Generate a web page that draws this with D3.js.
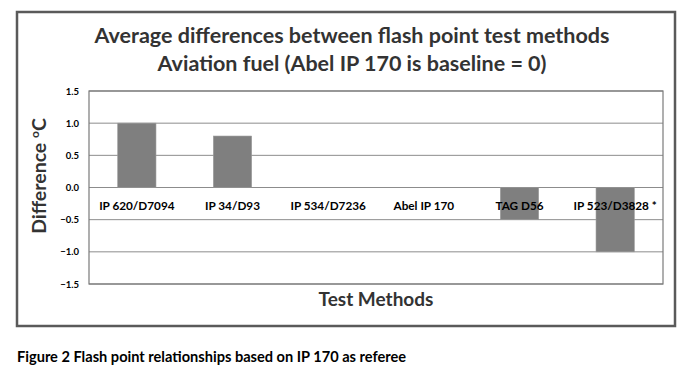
<!DOCTYPE html>
<html>
<head>
<meta charset="utf-8">
<script src="https://cdn.jsdelivr.net/npm/d3@7"></script>
<style>
  body { margin: 0; background: #fff; }
  text { font-family: Lato, "Open Sans", sans-serif; font-weight: bold; }
</style>
</head>
<body>
<svg id="chart" width="690" height="372"></svg>
<script>
// chart data
let methods = ["IP 620/D7094", "IP 34/D93", "IP 534/D7236", "Abel IP 170", "TAG D56", "IP 523/D3828 *"];
let differences = [1.0, 0.8, 0, 0, -0.5, -1.0];
let yTicks = [-1.5, -1.0, -0.5, 0.0, 0.5, 1.0, 1.5];
let titleLines = ["Average differences between flash point test methods", "Aviation fuel (Abel IP 170 is baseline = 0)"];

let svg = d3.select("#chart");

let margin = {top: 91, right: 27, bottom: 88, left: 89},
    width = +svg.attr("width") - margin.left - margin.right,
    height = +svg.attr("height") - margin.top - margin.bottom;

// outer frame
svg.append("rect")
    .attr("x", 17).attr("y", 12)
    .attr("width", 658).attr("height", 314)
    .attr("fill", "#fff")
    .attr("stroke", "#5a5a5a")
    .attr("stroke-width", 2.5);

svg.selectAll(".title")
    .data(titleLines)
    .enter().append("text")
    .attr("class", "title")
    .attr("x", 352)
    .attr("y", (d, i) => 43 + i * 28)
    .attr("text-anchor", "middle")
    .attr("fill", "#333")
    .style("font-size", "21.5px")
    .text(d => d);

let g = svg.append("g").attr("transform", "translate(" + margin.left + "," + margin.top + ")");

let x = d3.scaleBand()
    .domain(methods)
    .range([0, width])
    .paddingInner(0.6)
    .paddingOuter(0.3);

let y = d3.scaleLinear()
    .domain([-1.5, 1.5])
    .range([height, 0]);

// gridlines
g.append("g")
    .selectAll("line")
    .data(yTicks)
    .enter().append("line")
    .attr("x1", 0).attr("x2", width)
    .attr("y1", d => y(d)).attr("y2", d => y(d))
    .attr("stroke", "#8c8c8c")
    .attr("stroke-width", 1);

g.append("g")
    .call(d3.axisLeft(y).tickValues(yTicks).tickFormat(d3.format(".1f")).tickSize(0).tickPadding(10))
    .call(a => a.select(".domain").remove())
    .selectAll("text")
    .attr("fill", "#000")
    .style("font-size", "9.5px");

g.selectAll(".bar")
    .data(differences)
    .enter().append("rect")
    .attr("class", "bar")
    .attr("x", (d, i) => x(methods[i]))
    .attr("width", x.bandwidth())
    .attr("y", d => y(Math.max(0, d)))
    .attr("height", d => Math.abs(y(d) - y(0)))
    .attr("fill", "#7f7f7f")
    .attr("stroke", "#9a9a9a")
    .attr("stroke-width", 0.6);

// plot border
g.append("rect")
    .attr("width", width).attr("height", height)
    .attr("fill", "none")
    .attr("stroke", "#7a7a7a")
    .attr("stroke-width", 1.2);

// category labels sit just under the zero line
g.selectAll(".cat")
    .data(methods)
    .enter().append("text")
    .attr("class", "cat")
    .attr("x", d => x(d) + x.bandwidth() / 2)
    .attr("y", y(0) + 22)
    .attr("text-anchor", "middle")
    .attr("fill", "#000")
    .style("font-size", "11.75px")
    .text(d => d);

svg.append("text")
    .attr("x", 376).attr("y", 306)
    .attr("text-anchor", "middle")
    .attr("fill", "#333")
    .style("font-size", "19px")
    .text("Test Methods");

let yt = svg.append("text")
    .attr("transform", "translate(46,176) rotate(-90)")
    .attr("text-anchor", "middle")
    .attr("fill", "#333")
    .style("font-size", "19.5px");
yt.append("tspan").text("Difference ");
yt.append("tspan").attr("dy", -7).style("font-size", "12px").text("o");
yt.append("tspan").attr("dy", 7).text("C");

svg.append("text")
    .attr("x", 17).attr("y", 362)
    .attr("fill", "#000")
    .style("font-size", "14.6px")
    .text("Figure 2 Flash point relationships based on IP 170 as referee");
</script>
</body>
</html>
